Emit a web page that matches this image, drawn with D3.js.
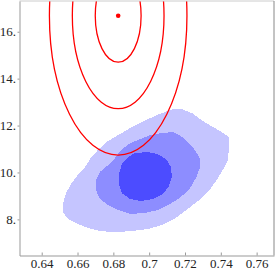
<!DOCTYPE html>
<html>
<head>
<meta charset="utf-8">
<script src="https://cdn.jsdelivr.net/npm/d3@7"></script>
<style>
  html, body { margin: 0; padding: 0; background: #fff; }
  svg { display: block; }
  .axis path, .axis line { stroke: #999; }
</style>
</head>
<body>
<div id="chart"></div>
<script>
// tick values
var xTicks = [0.64, 0.66, 0.68, 0.70, 0.72, 0.74, 0.76];
var yTicks = [8, 10, 12, 14, 16];

// model (red) : centre, semi axes of the 1-sigma ellipse, levels drawn
var modelCenter = [0.6827, 16.68];
var modelSigma = [0.0128, 1.98];
var modelLevels = [1, 2, 3];

// posterior regions (outer -> inner)
var regionOuter = [
    [0.7133, 12.70], [0.7183, 12.70], [0.7239, 12.53], [0.7300, 12.19], [0.7356, 11.94],
    [0.7406, 11.72], [0.7445, 11.51], [0.7445, 11.04], [0.7440, 10.53], [0.7417, 10.19],
    [0.7384, 9.76], [0.7345, 9.33], [0.7295, 8.91], [0.7228, 8.52], [0.7149, 8.06],
    [0.7071, 7.76], [0.6993, 7.59], [0.6904, 7.50], [0.6809, 7.46], [0.6725, 7.50],
    [0.6658, 7.63], [0.6603, 7.80], [0.6547, 8.01], [0.6519, 8.31], [0.6519, 8.69],
    [0.6536, 9.12], [0.6564, 9.51], [0.6597, 9.85], [0.6642, 10.23], [0.6681, 10.70],
    [0.6725, 11.04], [0.6770, 11.34], [0.6826, 11.59], [0.6893, 11.89], [0.6960, 12.15],
    [0.7032, 12.41], [0.7088, 12.58]
];
var regionMiddle = [
    [0.7004, 11.59], [0.7071, 11.68], [0.7133, 11.72], [0.7177, 11.55], [0.7216, 11.30],
    [0.7255, 10.96], [0.7283, 10.61], [0.7283, 10.19], [0.7261, 9.76], [0.7228, 9.33],
    [0.7177, 8.95], [0.7116, 8.65], [0.7049, 8.40], [0.6976, 8.27], [0.6893, 8.23],
    [0.6826, 8.40], [0.6770, 8.61], [0.6725, 8.87], [0.6703, 9.25], [0.6703, 9.68],
    [0.6725, 10.02], [0.6764, 10.27], [0.6809, 10.61], [0.6843, 10.96], [0.6893, 11.25],
    [0.6949, 11.42]
];
var regionInner = [
    [0.6921, 10.83], [0.6993, 10.87], [0.7049, 10.78], [0.7094, 10.57], [0.7122, 10.23],
    [0.7127, 9.80], [0.7110, 9.42], [0.7077, 9.08], [0.7021, 8.87], [0.6954, 8.78],
    [0.6893, 8.87], [0.6848, 9.12], [0.6831, 9.51], [0.6831, 9.93], [0.6848, 10.36],
    [0.6882, 10.66]
];
var regionColors = ["#c5c5ff", "#8d8dff", "#4c4cff"];

function init() {
    var w = 275, h = 271;
    var margin = { top: 1, right: 1, bottom: 15.5, left: 19.5 };

    var svg = d3.select("#chart").append("svg")
        .attr("width", w)
        .attr("height", h);

    var xScale = d3.scaleLinear()
        .domain([0.6276, 0.7697])
        .range([margin.left, w - margin.right]);

    var yScale = d3.scaleLinear()
        .domain([6.46, 17.31])
        .range([h - margin.bottom, margin.top]);

    svg.append("clipPath").attr("id", "plot-clip")
        .append("rect")
        .attr("x", margin.left)
        .attr("y", margin.top)
        .attr("width", w - margin.left - margin.right)
        .attr("height", h - margin.top - margin.bottom);

    var plot = svg.append("g").attr("clip-path", "url(#plot-clip)");

    // filled regions
    var line = d3.line()
        .x(d => xScale(d[0]))
        .y(d => yScale(d[1]))
        .curve(d3.curveLinearClosed);

    plot.selectAll("path.region")
        .data([regionOuter, regionMiddle, regionInner])
        .enter().append("path")
        .attr("class", "region")
        .attr("d", line)
        .attr("fill", (d, i) => regionColors[i])
        .attr("shape-rendering", "crispEdges");

    // model ellipses
    plot.selectAll("ellipse")
        .data(modelLevels)
        .enter().append("ellipse")
        .attr("cx", xScale(modelCenter[0]))
        .attr("cy", yScale(modelCenter[1]))
        .attr("rx", k => xScale(modelCenter[0] + k * modelSigma[0]) - xScale(modelCenter[0]))
        .attr("ry", k => yScale(modelCenter[1]) - yScale(modelCenter[1] + k * modelSigma[1]))
        .attr("fill", "none")
        .attr("stroke", "#f00")
        .attr("stroke-width", 1.3);

    plot.append("circle")
        .attr("cx", xScale(modelCenter[0]))
        .attr("cy", yScale(modelCenter[1]))
        .attr("r", 2.3)
        .attr("fill", "#f00");

    // frame top / right
    svg.append("line")
        .attr("x1", margin.left).attr("x2", w - margin.right)
        .attr("y1", margin.top).attr("y2", margin.top)
        .attr("stroke", "#ccc");
    svg.append("line")
        .attr("x1", w - margin.right).attr("x2", w - margin.right)
        .attr("y1", margin.top).attr("y2", h - margin.bottom)
        .attr("stroke", "#888");

    // axes
    var xAxis = d3.axisBottom(xScale)
        .tickValues(xTicks)
        .tickSizeInner(-3)
        .tickSizeOuter(0)
        .tickPadding(3.5)
        .tickFormat(d => String(+d.toFixed(2)));

    svg.append("g")
        .attr("class", "axis x-axis")
        .attr("transform", `translate(0, ${h - margin.bottom})`)
        .call(xAxis)
        .attr("font-family", "'Liberation Serif', 'Times New Roman', serif")
        .attr("font-size", 13)
        .selectAll("text").attr("fill", "#222");

    var yAxis = d3.axisLeft(yScale)
        .tickValues(yTicks)
        .tickSizeInner(2)
        .tickSizeOuter(0)
        .tickPadding(1.5)
        .tickFormat(d => d + ".");

    svg.append("g")
        .attr("class", "axis y-axis")
        .attr("transform", `translate(${margin.left}, 0)`)
        .call(yAxis)
        .attr("font-family", "'Liberation Serif', 'Times New Roman', serif")
        .attr("font-size", 13)
        .selectAll("text").attr("fill", "#222");
}

window.onload = init;
</script>
</body>
</html>
